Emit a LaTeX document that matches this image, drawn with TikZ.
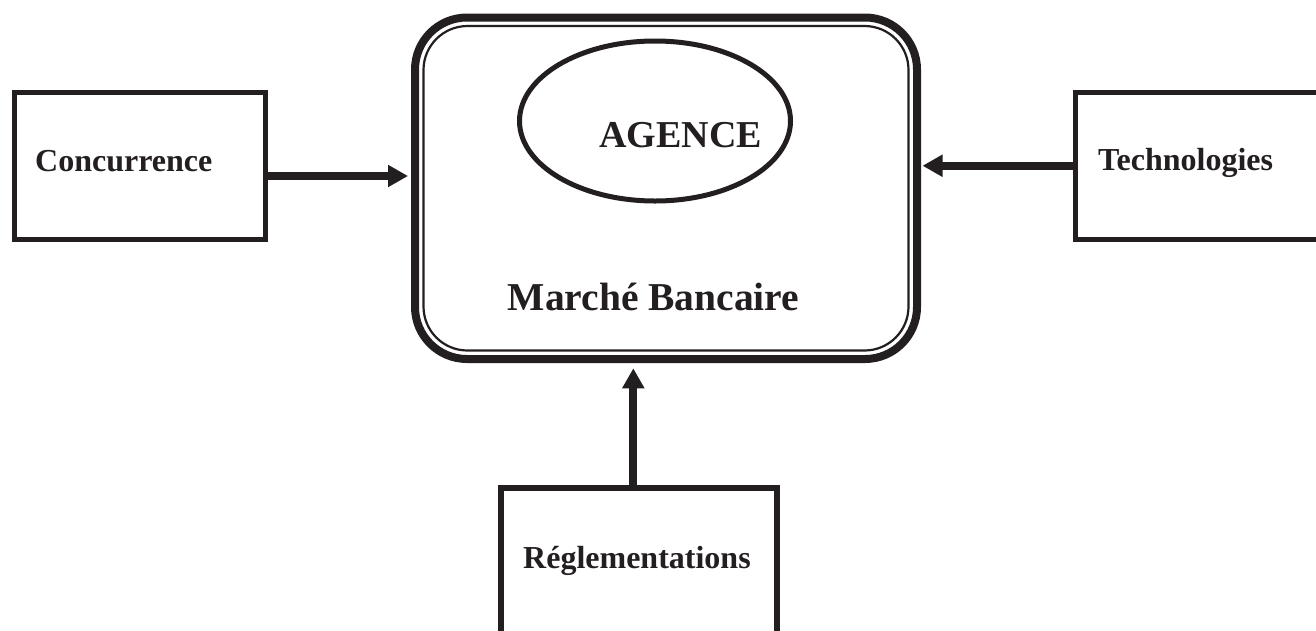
\documentclass[tikz,border=0pt]{standalone}
\usepackage{fontspec}
\setmainfont{Liberation Serif}
\usetikzlibrary{arrows.meta,shapes.geometric}
\definecolor{ink}{RGB}{35,31,32}
\begin{document}
\begin{tikzpicture}[x=1pt,y=-1pt,
  box/.style={draw=ink, line width=5pt, inner sep=0pt, outer sep=0pt},
  lbl/.style={text=ink, font=\bfseries\fontsize{32}{38}\selectfont, inner sep=0pt, anchor=base west},
  big/.style={text=ink, font=\bfseries\fontsize{#1}{#1}\selectfont, inner sep=0pt, anchor=base},
  arr/.style={draw=ink, line width=8pt, -{Triangle[length=20pt,width=21pt]}},
]
\clip (0,0) rectangle (1316,630);
\fill[white] (0,0) rectangle (1316,630);

% outside forces
\node[box, minimum width=251.5pt, minimum height=147pt] (conc) at (139.75,166) {};
\node[lbl] (conct) at (35,171) {Concurrence};

\node[box, minimum width=265pt, minimum height=147.5pt] (tech) at (1207.5,165.75) {};
\node[lbl] (techt) at (1098,170) {Technologies};

\node[box, line width=6pt, minimum width=276pt, minimum height=232pt] (regl) at (638.7,604) {};
\node[lbl] (reglt) at (523,568.3) {Réglementations};

% the banking market: thick outer frame with a thin inner line
\node[draw=ink, line width=8pt, rounded corners=52pt, minimum width=502pt,
      minimum height=341.5pt, inner sep=0pt, outer sep=0pt] (main) at (666,188.25) {};
\draw[ink, line width=2.2pt, rounded corners=44pt]
  ([shift={(8.5,8.5)}]main.north west) rectangle ([shift={(-8.5,-8.5)}]main.south east);

\node[ellipse, draw=ink, line width=5pt, minimum width=271pt, minimum height=160pt,
      inner sep=0pt] (agence) at (655,121) {};
\node[big=38] (agencet) at (680.5,147) {AGENCE};
\node[big=39.5] (marchet) at (653.5,310) {Marché Bancaire};

% influences
\draw[arr] ([yshift=-10pt]conc.east) coordinate (c1) -- ([xshift=-7pt]main.west |- c1);
\draw[arr] (tech.west) -- ([xshift=5.5pt]main.east |- tech.west);
\draw[arr] ([xshift=-5.4pt]regl.north) coordinate (r1) -- ([yshift=-9.3pt]main.south -| r1);
\end{tikzpicture}
\end{document}
